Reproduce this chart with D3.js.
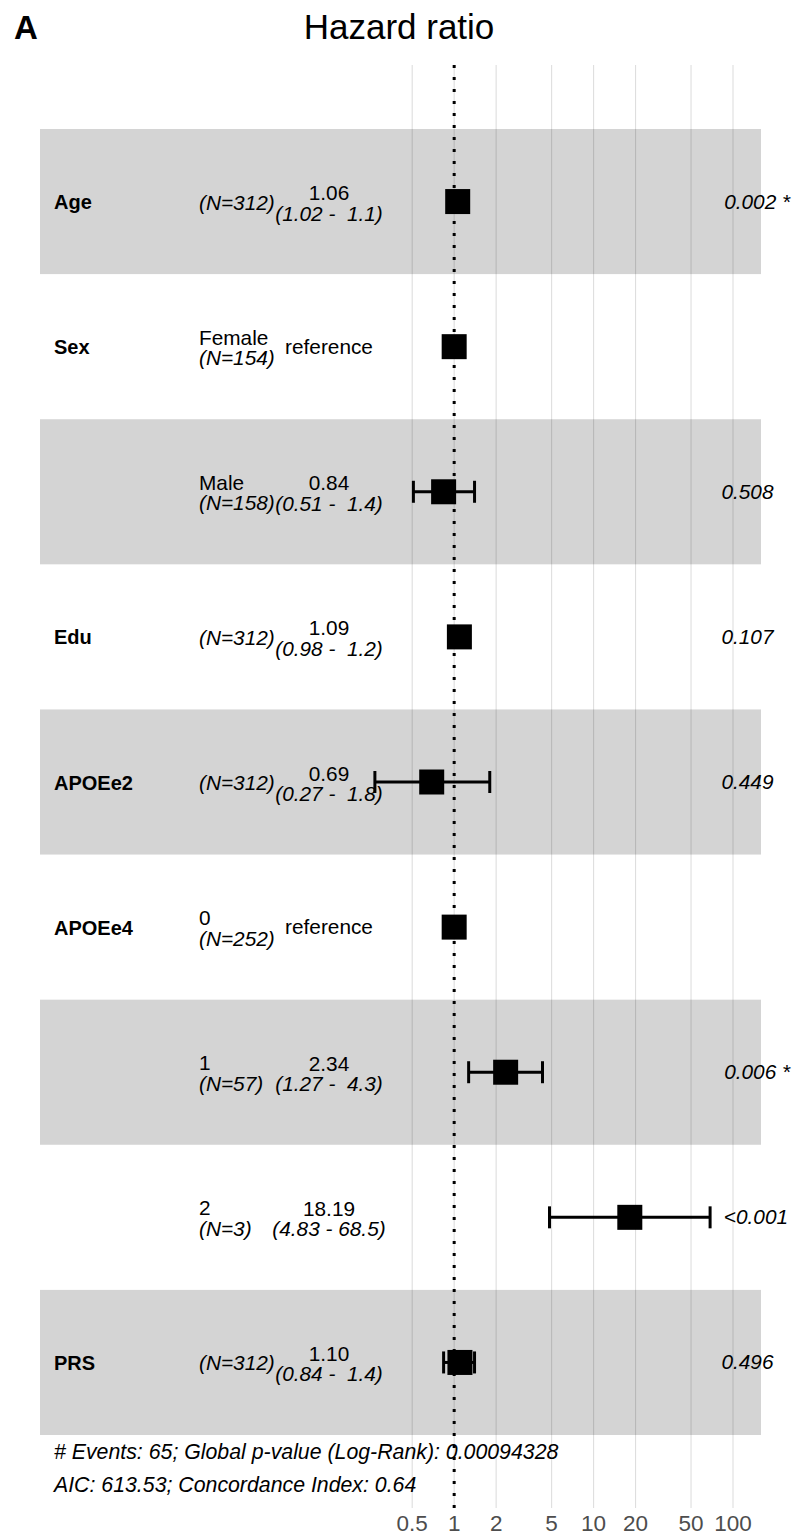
<!DOCTYPE html>
<html>
<head>
<meta charset="utf-8">
<script src="https://cdn.jsdelivr.net/npm/d3@7"></script>
<style>
  html, body { margin: 0; padding: 0; background: #ffffff; }
  svg { display: block; }
  text { font-family: "Liberation Sans", Arial, Helvetica, sans-serif; white-space: pre; }
</style>
</head>
<body>
<svg id="chart" width="792" height="1537"></svg>
<script>
// Cox model results, one entry per row of the forest plot
const variables  = ["Age", "Sex", "", "Edu", "APOEe2", "APOEe4", "", "", "PRS"];
const levels     = ["", "Female", "Male", "", "", "0", "1", "2", ""];
const counts     = [312, 154, 158, 312, 312, 252, 57, 3, 312];
const isReference = [false, true, false, false, false, true, false, false, false];
const hazard     = [1.06, 1, 0.84, 1.09, 0.69, 1, 2.34, 18.19, 1.10];
const ciLow      = [1.02, null, 0.51, 0.98, 0.27, null, 1.27, 4.83, 0.84];
const ciHigh     = [1.1, null, 1.4, 1.2, 1.8, null, 4.3, 68.5, 1.4];
const pLabels    = ["0.002 *", "", "0.508", "0.107", "0.449", "", "0.006 *", "<0.001", "0.496"];

const tickValues = [0.5, 1, 2, 5, 10, 20, 50, 100];
const tickLabels = ["0.5", "1", "2", "5", "10", "20", "50", "100"];

const footerLines = [
  "# Events: 65; Global p-value (Log-Rank): 0.00094328",
  "AIC: 613.53; Concordance Index: 0.64"
];

const rows = variables.map((v, i) => ({
  i, variable: v, level: levels[i], n: counts[i], ref: isReference[i],
  hr: hazard[i], lo: ciLow[i], hi: ciHigh[i], p: pLabels[i]
}));

const svg = d3.select("#chart");
const fontSize = 20.8;

// Layout
const panelTop = 65, panelBottom = 1508;
const bandLeft = 40, bandRight = 761;
const xVar = 54, xLevel = 199, xEst = 329, xP = 711;

// Hazard ratio axis (log scale) and row positions
const x = d3.scaleLog().domain([0.5, 100]).range([412.2, 733]);
const y = d3.scaleBand().domain(rows.map(d => d.i)).range([129, 1435]).padding(0);
const cy = i => y(i) + y.bandwidth() / 2;

// Vertical grid lines at the tick positions
svg.append("g")
  .selectAll("line")
  .data(tickValues)
  .join("line")
  .attr("x1", d => x(d)).attr("x2", d => x(d))
  .attr("y1", panelTop).attr("y2", panelBottom)
  .attr("stroke", "#dedede").attr("stroke-width", 1.1);

// Alternating row shading
svg.append("g")
  .selectAll("rect")
  .data(rows.filter(d => d.i % 2 === 0))
  .join("rect")
  .attr("x", bandLeft).attr("width", bandRight - bandLeft)
  .attr("y", d => y(d.i)).attr("height", y.bandwidth())
  .attr("fill", "rgba(0,0,0,0.17)");

// Reference line at HR = 1
svg.append("line")
  .attr("x1", x(1)).attr("x2", x(1))
  .attr("y1", panelTop).attr("y2", panelBottom)
  .attr("stroke", "#000").attr("stroke-width", 3)
  .attr("stroke-dasharray", "3,9");

// Confidence intervals
const ci = svg.append("g").attr("stroke", "#000").attr("stroke-width", 3).attr("fill", "none");
const withCI = rows.filter(d => d.lo != null);
ci.selectAll("line.bar").data(withCI).join("line").attr("class", "bar")
  .attr("x1", d => x(d.lo)).attr("x2", d => x(d.hi))
  .attr("y1", d => cy(d.i)).attr("y2", d => cy(d.i));
ci.selectAll("line.capl").data(withCI).join("line").attr("class", "capl")
  .attr("x1", d => x(d.lo)).attr("x2", d => x(d.lo))
  .attr("y1", d => cy(d.i) - 11).attr("y2", d => cy(d.i) + 11);
ci.selectAll("line.caph").data(withCI).join("line").attr("class", "caph")
  .attr("x1", d => x(d.hi)).attr("x2", d => x(d.hi))
  .attr("y1", d => cy(d.i) - 11).attr("y2", d => cy(d.i) + 11);

// Point estimates
const sq = 25;
svg.append("g").selectAll("rect").data(rows).join("rect")
  .attr("x", d => x(d.hr) - sq / 2).attr("y", d => cy(d.i) - sq / 2)
  .attr("width", sq).attr("height", sq).attr("fill", "#000");

// Text columns
const txt = svg.append("g").attr("font-size", fontSize).attr("fill", "#000");

txt.selectAll("text.var").data(rows.filter(d => d.variable)).join("text")
  .attr("class", "var")
  .attr("x", xVar).attr("y", d => cy(d.i) + 7.5)
  .attr("font-weight", "bold").attr("font-size", 20)
  .text(d => d.variable);

txt.selectAll("text.lvl").data(rows.filter(d => d.level)).join("text")
  .attr("class", "lvl")
  .attr("x", xLevel).attr("y", d => cy(d.i) - 2)
  .text(d => d.level);

txt.selectAll("text.n").data(rows).join("text")
  .attr("class", "n")
  .attr("x", xLevel).attr("y", d => d.level ? cy(d.i) + 18.5 : cy(d.i) + 8)
  .attr("font-style", "italic")
  .text(d => `(N=${d.n})`);

txt.selectAll("text.est").data(rows).join("text")
  .attr("class", "est")
  .attr("x", xEst).attr("y", d => d.ref ? cy(d.i) + 7 : cy(d.i) - 1.5)
  .attr("text-anchor", "middle")
  .text(d => d.ref ? "reference" : d.hr.toFixed(2));

txt.selectAll("text.ci").data(withCI).join("text")
  .attr("class", "ci")
  .attr("x", xEst).attr("y", d => cy(d.i) + 19)
  .attr("text-anchor", "middle").attr("font-style", "italic")
  .text(d => `(${d.lo.toFixed(2)} - ${String(d.hi).padStart(4, " ")})`);

// p-values, left-justified with a small offset proportional to their width
txt.selectAll("text.p").data(rows.filter(d => d.p)).join("text")
  .attr("class", "p")
  .attr("y", d => cy(d.i) + 7)
  .attr("font-style", "italic")
  .text(d => d.p)
  .attr("x", function () { return Math.min(xP + 0.2 * this.getComputedTextLength(), 791 - this.getComputedTextLength()); });

// Model summary
txt.selectAll("text.foot").data(footerLines).join("text")
  .attr("class", "foot")
  .attr("x", xVar).attr("y", (d, k) => 1459 + k * 33)
  .attr("font-style", "italic").attr("font-size", 21.3)
  .text(d => d);

// Axis tick labels
svg.append("g").selectAll("text").data(tickValues).join("text")
  .attr("x", d => x(d)).attr("y", 1531)
  .attr("text-anchor", "middle").attr("font-size", 22.5).attr("fill", "#4d4d4d")
  .text((d, k) => tickLabels[k]);

// Title and panel tag
svg.append("text").attr("x", 399).attr("y", 39)
  .attr("text-anchor", "middle").attr("font-size", 35)
  .text("Hazard ratio");
svg.append("text").attr("x", 14).attr("y", 39)
  .attr("font-size", 33).attr("font-weight", "bold")
  .text("A");
</script>
</body>
</html>
